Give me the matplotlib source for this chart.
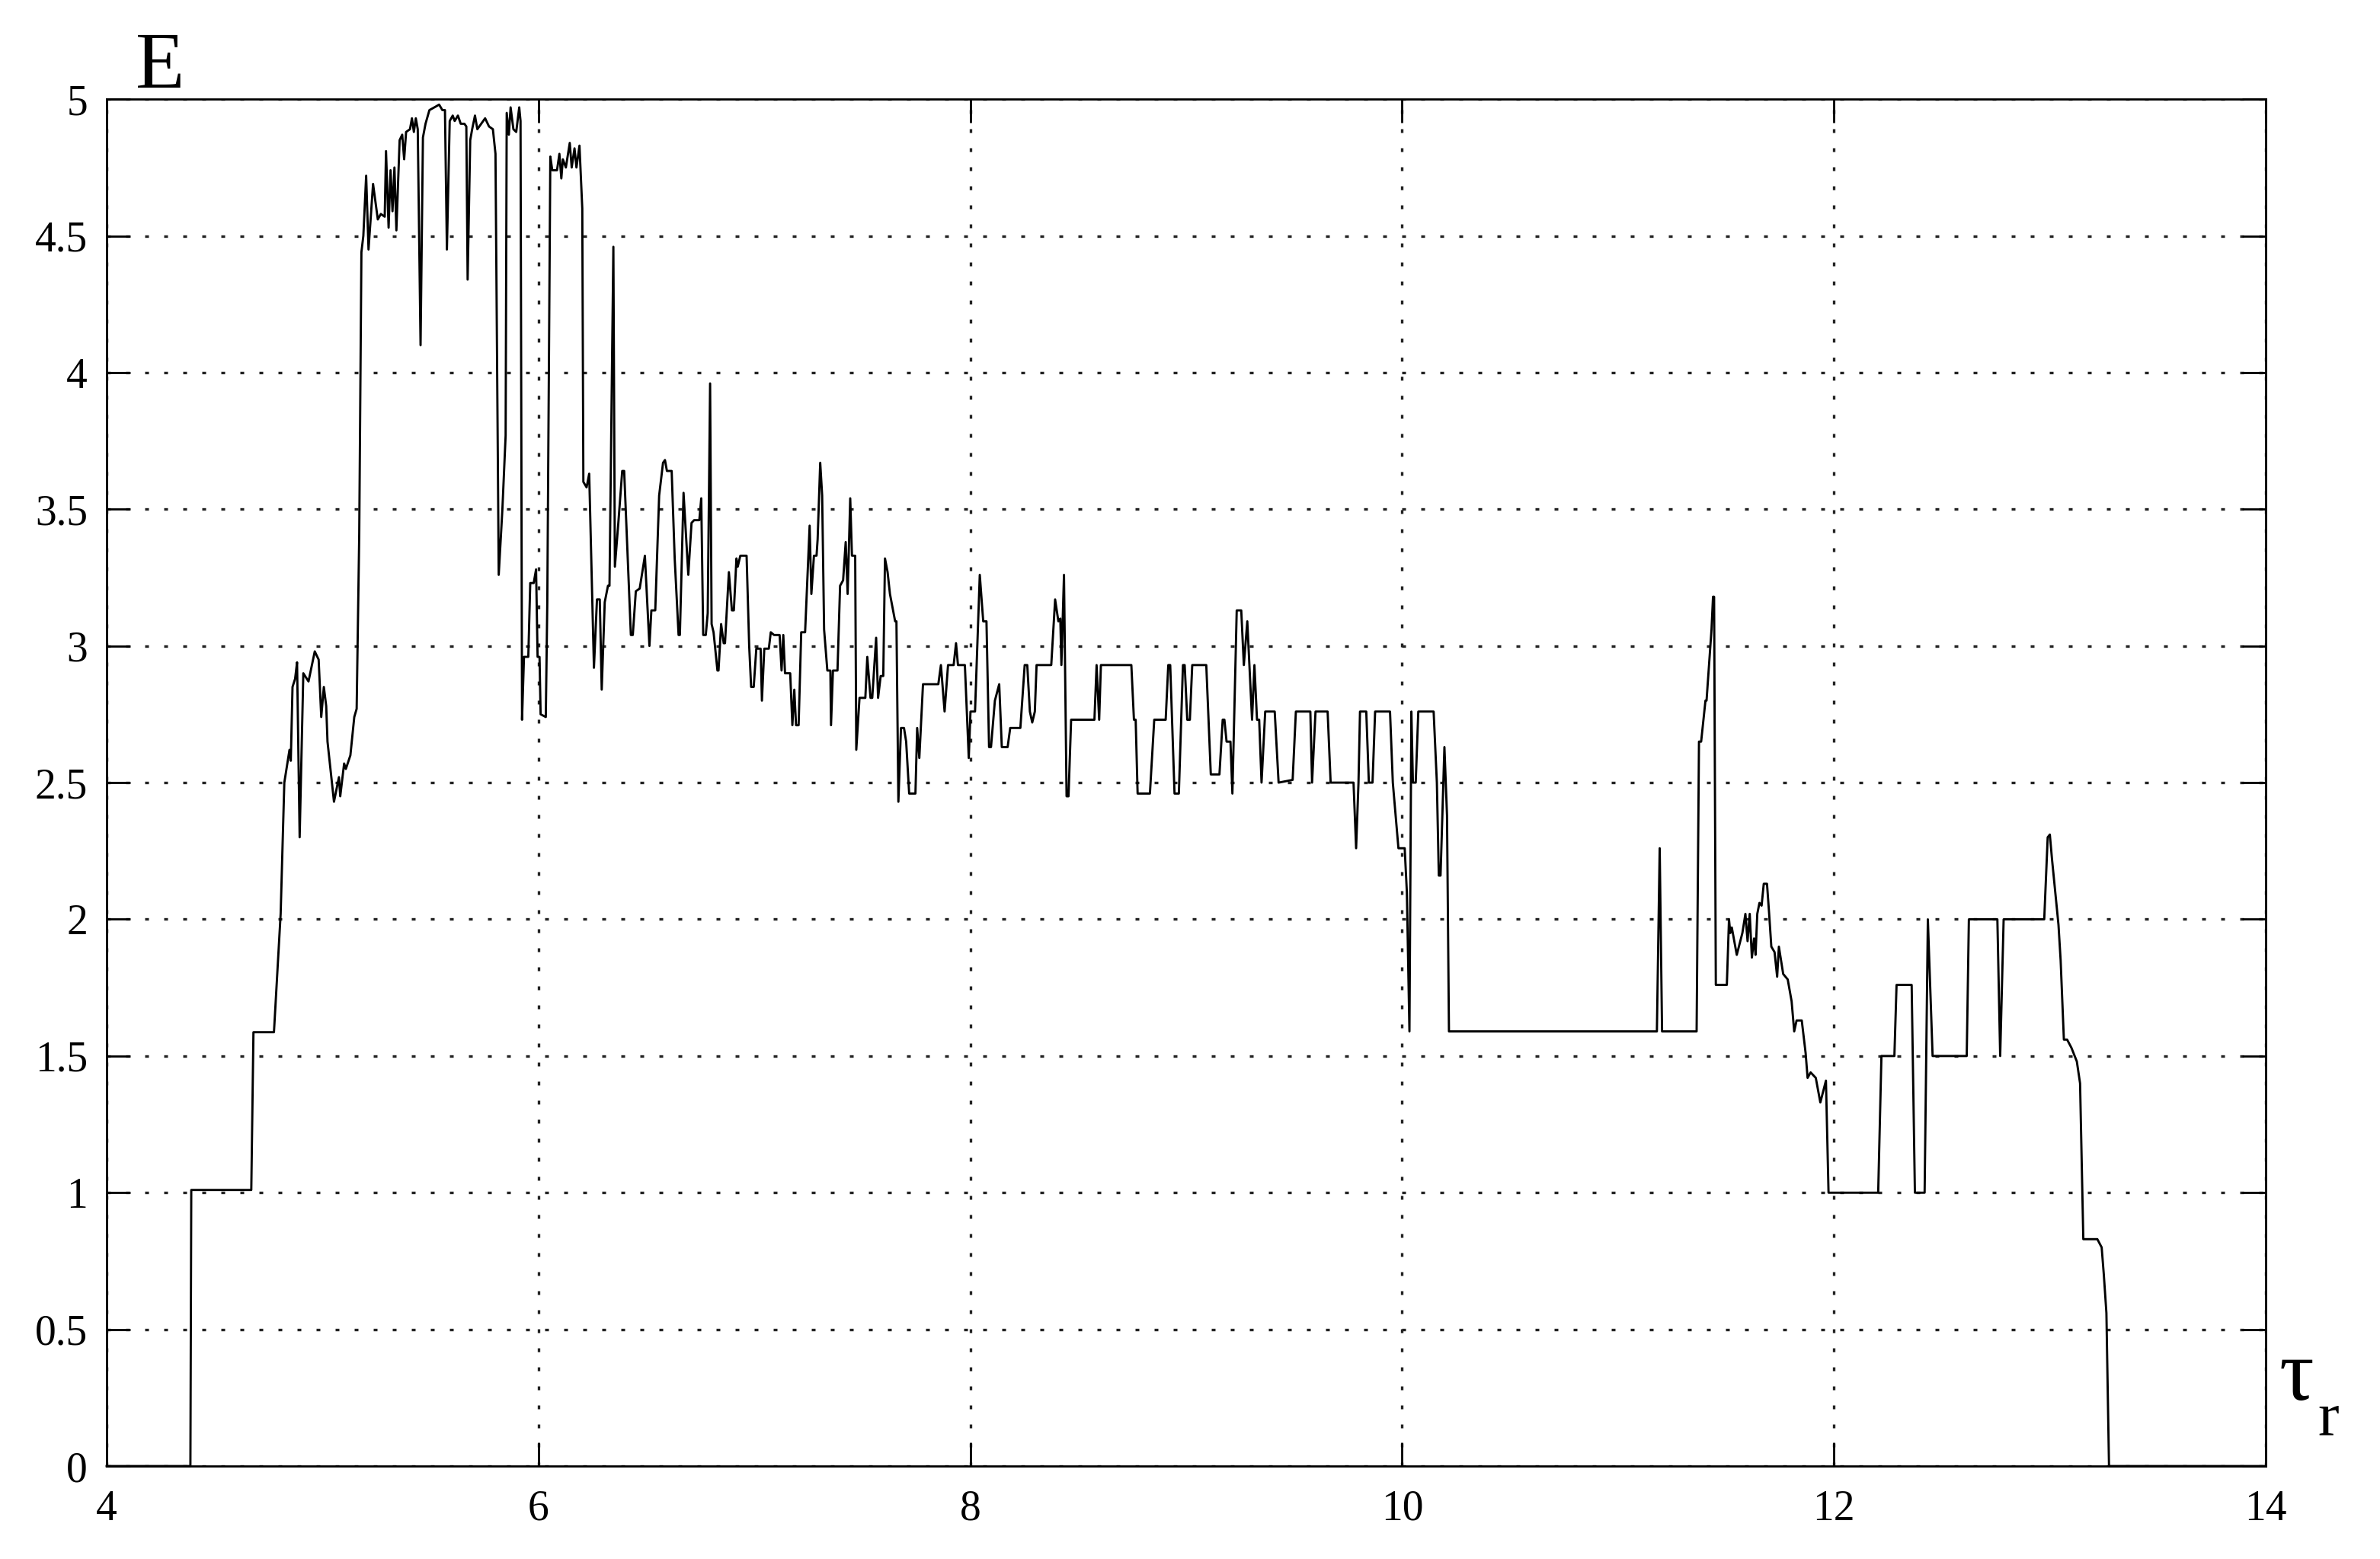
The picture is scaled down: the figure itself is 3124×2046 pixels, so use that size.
import numpy as np
from matplotlib import pyplot as plt

plt.rcParams['font.family'] = ['Liberation Serif', 'DejaVu Serif']

# relaxation time tau_r and energy E (one row per line)
tau = [
    4.000, 4.388, 4.392, 4.670, 4.680, 4.775,
    4.806, 4.823, 4.847, 4.853, 4.861, 4.873, 4.882, 4.894, 4.911, 4.935,
    4.964, 4.982, 4.994, 5.006, 5.017, 5.023, 5.053, 5.076, 5.082, 5.100,
    5.108, 5.129, 5.147, 5.158, 5.170, 5.180, 5.189, 5.202, 5.213, 5.234,
    5.256, 5.270, 5.288, 5.294, 5.306, 5.315, 5.324, 5.333, 5.342, 5.357,
    5.369, 5.378, 5.387, 5.405, 5.414, 5.423, 5.432, 5.441, 5.454, 5.465,
    5.477, 5.495, 5.518, 5.540, 5.555, 5.567, 5.576, 5.589, 5.603, 5.612,
    5.627, 5.640, 5.657, 5.666, 5.672, 5.684, 5.693, 5.706, 5.717, 5.735,
    5.753, 5.771, 5.789, 5.801, 5.816, 5.833, 5.848, 5.853, 5.863, 5.871,
    5.884, 5.897, 5.911, 5.917, 5.924, 5.933, 5.953, 5.962, 5.978, 5.989,
    5.996, 6.005, 6.010, 6.034, 6.041, 6.055, 6.064, 6.086, 6.097, 6.106,
    6.113, 6.127, 6.145, 6.154, 6.167, 6.176, 6.190, 6.203, 6.208, 6.223,
    6.235, 6.257, 6.271, 6.284, 6.293, 6.307, 6.322, 6.329, 6.347, 6.354,
    6.370, 6.388, 6.397, 6.428, 6.437, 6.451, 6.469, 6.493, 6.514, 6.523,
    6.541, 6.559, 6.577, 6.586, 6.595, 6.617, 6.631, 6.649, 6.655, 6.672,
    6.694, 6.709, 6.721, 6.745, 6.754, 6.763, 6.775, 6.784, 6.795, 6.802,
    6.811, 6.829, 6.834, 6.846, 6.858, 6.864, 6.882, 6.896, 6.905, 6.917,
    6.923, 6.935, 6.964, 6.976, 6.985, 6.997, 7.009, 7.029, 7.035, 7.046,
    7.067, 7.076, 7.091, 7.117, 7.126, 7.134, 7.142, 7.166, 7.176, 7.185,
    7.193, 7.205, 7.217, 7.235, 7.256, 7.264, 7.276, 7.288, 7.293, 7.305,
    7.314, 7.323, 7.338, 7.352, 7.355, 7.364, 7.385, 7.397, 7.411, 7.423,
    7.432, 7.444, 7.452, 7.467, 7.472, 7.487, 7.514, 7.523, 7.538, 7.546,
    7.564, 7.573, 7.585, 7.597, 7.605, 7.617, 7.628, 7.652, 7.658, 7.667,
    7.679, 7.693, 7.703, 7.717, 7.746, 7.754, 7.764, 7.781, 7.852, 7.864,
    7.881, 7.897, 7.923, 7.934, 7.943, 7.975, 7.993, 8.001, 8.022, 8.044,
    8.060, 8.075, 8.087, 8.096, 8.114, 8.134, 8.146, 8.173, 8.185, 8.232,
    8.252, 8.264, 8.276, 8.287, 8.299, 8.307, 8.375, 8.393, 8.408, 8.417,
    8.422, 8.434, 8.446, 8.455, 8.467, 8.575, 8.585, 8.597, 8.605, 8.746,
    8.758, 8.766, 8.775, 8.832, 8.852, 8.905, 8.917, 8.926, 8.946, 8.966,
    8.985, 8.993, 9.005, 9.017, 9.028, 9.093, 9.114, 9.154, 9.169, 9.177,
    9.187, 9.205, 9.214, 9.234, 9.255, 9.267, 9.283, 9.305, 9.316, 9.328,
    9.338, 9.349, 9.366, 9.410, 9.428, 9.493, 9.508, 9.575, 9.583, 9.599,
    9.655, 9.669, 9.775, 9.787, 9.798, 9.805, 9.834, 9.846, 9.863, 9.875,
    9.944, 9.957, 9.983, 10.012, 10.022, 10.034, 10.043, 10.050, 10.063, 10.075,
    10.146, 10.161, 10.170, 10.178, 10.196, 10.208, 10.217, 11.180, 11.193, 11.204,
    11.364, 11.375, 11.385, 11.405, 11.410, 11.433, 11.440, 11.445, 11.453, 11.504,
    11.514, 11.520, 11.527, 11.550, 11.576, 11.590, 11.600, 11.610, 11.620, 11.630,
    11.637, 11.645, 11.655, 11.665, 11.675, 11.690, 11.700, 11.710, 11.725, 11.737,
    11.745, 11.765, 11.786, 11.804, 11.816, 11.827, 11.851, 11.869, 11.878, 11.892,
    11.916, 11.937, 11.963, 11.975, 12.205, 12.220, 12.280, 12.290, 12.360, 12.375,
    12.420, 12.435, 12.457, 12.615, 12.625, 12.757, 12.770, 12.786, 12.974, 12.990,
    13.000, 13.010, 13.040, 13.050, 13.065, 13.080, 13.100, 13.125, 13.140, 13.155,
    13.220, 13.240, 13.250, 13.262, 13.274, 14.000,
]
energy = [
    0.00, 0.00, 1.01, 1.01, 1.587, 1.587,
    2.02, 2.50, 2.62, 2.58, 2.85, 2.88, 2.94, 2.30, 2.90, 2.87,
    2.98, 2.95, 2.74, 2.85, 2.78, 2.65, 2.43, 2.52, 2.45, 2.57,
    2.55, 2.60, 2.74, 2.77, 3.41, 4.44, 4.50, 4.72, 4.45, 4.69,
    4.56, 4.58, 4.57, 4.81, 4.53, 4.74, 4.59, 4.75, 4.52, 4.85,
    4.87, 4.78, 4.88, 4.89, 4.93, 4.88, 4.93, 4.89, 4.10, 4.86,
    4.91, 4.96, 4.97, 4.98, 4.96, 4.96, 4.45, 4.92, 4.94, 4.92,
    4.94, 4.91, 4.91, 4.90, 4.34, 4.85, 4.89, 4.94, 4.89, 4.91,
    4.93, 4.90, 4.89, 4.80, 3.26, 3.50, 3.77, 4.95, 4.87, 4.97,
    4.89, 4.88, 4.97, 4.92, 2.73, 2.96, 2.96, 3.23, 3.23, 3.28,
    2.96, 2.96, 2.75, 2.74, 3.16, 4.79, 4.74, 4.74, 4.80, 4.71,
    4.78, 4.75, 4.84, 4.75, 4.82, 4.75, 4.83, 4.60, 3.60, 3.58,
    3.63, 2.92, 3.17, 3.17, 2.84, 3.16, 3.22, 3.22, 4.46, 3.29,
    3.45, 3.64, 3.64, 3.04, 3.04, 3.20, 3.21, 3.33, 3.00, 3.13,
    3.13, 3.55, 3.67, 3.68, 3.64, 3.64, 3.32, 3.04, 3.04, 3.56,
    3.26, 3.45, 3.46, 3.46, 3.54, 3.04, 3.04, 3.12, 3.96, 3.08,
    3.05, 2.91, 2.91, 3.08, 3.01, 3.01, 3.27, 3.13, 3.13, 3.32,
    3.29, 3.33, 3.33, 3.00, 2.85, 2.85, 2.99, 2.99, 2.80, 2.99,
    2.99, 3.05, 3.04, 3.04, 2.91, 3.04, 2.90, 2.90, 2.71, 2.84,
    2.71, 2.71, 3.05, 3.05, 3.44, 3.19, 3.33, 3.33, 3.39, 3.67,
    3.55, 3.06, 2.91, 2.91, 2.71, 2.91, 2.91, 3.22, 3.24, 3.38,
    3.19, 3.54, 3.33, 3.33, 2.62, 2.81, 2.81, 2.96, 2.81, 2.81,
    3.03, 2.81, 2.89, 2.89, 3.32, 3.27, 3.19, 3.09, 3.09, 2.43,
    2.70, 2.70, 2.65, 2.46, 2.46, 2.70, 2.59, 2.86, 2.86, 2.93,
    2.76, 2.93, 2.93, 3.01, 2.93, 2.93, 2.59, 2.76, 2.76, 3.26,
    3.09, 3.09, 2.63, 2.63, 2.80, 2.86, 2.63, 2.63, 2.70, 2.70,
    2.93, 2.93, 2.76, 2.72, 2.76, 2.93, 2.93, 3.17, 3.09, 3.10,
    2.93, 3.26, 2.45, 2.45, 2.73, 2.73, 2.93, 2.73, 2.93, 2.93,
    2.73, 2.73, 2.46, 2.46, 2.73, 2.73, 2.93, 2.93, 2.46, 2.46,
    2.93, 2.93, 2.73, 2.73, 2.93, 2.93, 2.53, 2.53, 2.73, 2.73,
    2.65, 2.65, 2.46, 3.13, 3.13, 2.93, 3.09, 2.73, 2.93, 2.73,
    2.73, 2.50, 2.76, 2.76, 2.50, 2.51, 2.76, 2.76, 2.50, 2.76,
    2.76, 2.50, 2.50, 2.26, 2.50, 2.76, 2.76, 2.50, 2.50, 2.76,
    2.76, 2.50, 2.26, 2.26, 2.10, 1.59, 2.76, 2.50, 2.50, 2.76,
    2.76, 2.50, 2.16, 2.16, 2.63, 2.38, 1.59, 1.59, 2.26, 1.59,
    1.59, 2.65, 2.65, 2.80, 2.80, 3.06, 3.18, 3.18, 1.76, 1.76,
    2.00, 1.95, 1.97, 1.87, 1.95, 2.02, 1.92, 2.02, 1.86, 1.93,
    1.87, 2.02, 2.06, 2.05, 2.13, 2.13, 2.02, 1.90, 1.88, 1.79,
    1.90, 1.80, 1.78, 1.70, 1.59, 1.63, 1.63, 1.51, 1.42, 1.44,
    1.42, 1.33, 1.41, 1.00, 1.00, 1.50, 1.50, 1.76, 1.76, 1.00,
    1.00, 2.00, 1.50, 1.50, 2.00, 2.00, 1.50, 2.00, 2.00, 2.30,
    2.31, 2.22, 1.98, 1.85, 1.56, 1.56, 1.53, 1.48, 1.40, 0.83,
    0.83, 0.80, 0.70, 0.56, 0.00, 0.00,
]
assert len(tau) == len(energy)

x_ticks = [4, 6, 8, 10, 12, 14]
y_ticks = [0, 0.5, 1, 1.5, 2, 2.5, 3, 3.5, 4, 4.5, 5]
y_ticklabels = ["0", "0.5", "1", "1.5", "2", "2.5", "3", "3.5", "4", "4.5", "5"]

fig = plt.figure(figsize=(15.62, 10.23), dpi=200)
ax = fig.add_axes([0.0448, 0.0596, 0.9072, 0.8768])

ax.plot(tau, energy, color="black", linewidth=1.05, clip_on=False)

ax.set_xlim(4, 14)
ax.set_ylim(0, 5)
ax.set_xticks(x_ticks)
ax.set_xticklabels([str(t) for t in x_ticks])
ax.set_yticks(y_ticks)
ax.set_yticklabels(y_ticklabels)

# inward ticks on all four sides, dotted grid
ax.tick_params(direction="in", length=11, width=1.0, top=True, right=True,
               labelsize=20, colors="black")
ax.tick_params(axis="x", pad=11)
ax.tick_params(axis="y", pad=9)
ax.grid(True, color="#222222", linestyle=(0, (1.5, 6)), linewidth=1.2)
for sp in ax.spines.values():
    sp.set_linewidth(1.0)

# axis labels placed like the original figure
fig.text(0.057, 0.944, "E", fontsize=38, va="baseline", ha="left")
fig.text(0.9575, 0.1021, "τ", fontsize=41, va="baseline", ha="left")
fig.text(0.974, 0.0792, "r", fontsize=30, va="baseline", ha="left")

fig.savefig("out.png", dpi=200)
